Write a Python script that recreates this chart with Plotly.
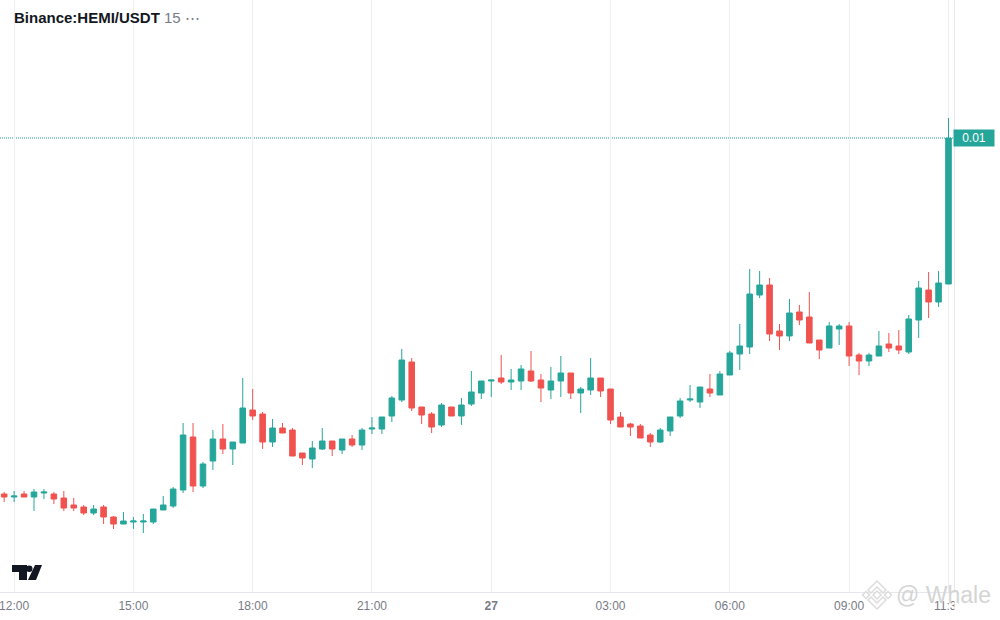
import pandas as pd
import plotly.graph_objects as go

# === Candle data (15 min, prices in 1e-5 USDT) ===
opens = [1001, 998, 1001, 998, 1002, 1001, 997, 990, 988, 982, 988, 978,
         971, 973, 973, 973, 985, 989, 1005, 1058, 1009, 1034, 1056, 1046,
         1052, 1085, 1081, 1053, 1067, 1065, 1042, 1036, 1046, 1054, 1045, 1056,
         1050, 1066, 1066, 1079, 1095, 1133, 1088, 1081, 1070, 1088, 1079, 1091,
         1102, 1114, 1117, 1113, 1114, 1124, 1115, 1105, 1114, 1122, 1102, 1105,
         1117, 1106, 1078, 1071, 1069, 1060, 1053, 1064, 1079, 1095, 1093, 1106,
         1100, 1120, 1141, 1148, 1200, 1210, 1164, 1159, 1183, 1178, 1155, 1147,
         1166, 1169, 1140, 1134, 1139, 1151, 1149, 1143, 1175, 1205, 1193, 1211]
highs = [1003, 1004, 1004, 1006, 1006, 1003, 1004, 997, 990, 990, 990, 979,
         983, 978, 981, 986, 999, 1008, 1072, 1072, 1033, 1065, 1071, 1053,
         1117, 1106, 1083, 1076, 1072, 1067, 1042, 1054, 1067, 1054, 1056, 1060,
         1067, 1078, 1078, 1099, 1146, 1137, 1088, 1083, 1092, 1088, 1097, 1124,
         1114, 1115, 1140, 1126, 1130, 1144, 1121, 1128, 1139, 1122, 1108, 1137,
         1117, 1106, 1083, 1072, 1071, 1062, 1067, 1078, 1097, 1110, 1108, 1121,
         1124, 1144, 1171, 1226, 1224, 1217, 1171, 1196, 1190, 1203, 1155, 1173,
         1171, 1173, 1142, 1142, 1164, 1162, 1165, 1180, 1214, 1223, 1224, 1377]
lows = [993, 993, 998, 984, 996, 991, 984, 984, 980, 980, 971, 966,
        971, 966, 962, 971, 985, 987, 1002, 1003, 1007, 1025, 1041, 1030,
        1052, 1075, 1046, 1048, 1062, 1039, 1030, 1027, 1045, 1039, 1041, 1048,
        1045, 1061, 1061, 1073, 1093, 1084, 1071, 1062, 1068, 1079, 1070, 1089,
        1096, 1098, 1111, 1105, 1105, 1113, 1093, 1096, 1098, 1096, 1082, 1100,
        1098, 1071, 1068, 1059, 1057, 1048, 1052, 1059, 1077, 1093, 1087, 1098,
        1100, 1120, 1125, 1141, 1197, 1154, 1145, 1154, 1170, 1152, 1136, 1147,
        1150, 1129, 1120, 1129, 1139, 1143, 1141, 1141, 1157, 1177, 1188, 1211]
closes = [998, 999, 998, 1003, 1003, 996, 987, 987, 982, 986, 978, 971,
          974, 974, 974, 986, 990, 1006, 1060, 1009, 1031, 1056, 1046, 1053,
          1087, 1079, 1053, 1067, 1062, 1039, 1037, 1047, 1054, 1046, 1056, 1050,
          1065, 1067, 1078, 1097, 1135, 1087, 1080, 1068, 1090, 1079, 1090, 1103,
          1114, 1115, 1113, 1115, 1126, 1114, 1107, 1114, 1122, 1102, 1106, 1117,
          1104, 1075, 1068, 1068, 1057, 1053, 1065, 1078, 1094, 1096, 1108, 1102,
          1121, 1142, 1149, 1201, 1210, 1161, 1159, 1182, 1175, 1152, 1145, 1169,
          1169, 1139, 1134, 1140, 1149, 1147, 1145, 1176, 1207, 1193, 1212, 1357]

tick_times = ['2025-09-26 12:00', '2025-09-26 15:00', '2025-09-26 18:00', '2025-09-26 21:00',
              '2025-09-27 00:00', '2025-09-27 03:00', '2025-09-27 06:00', '2025-09-27 09:00',
              '2025-09-27 11:30']
tick_labels = ['12:00', '15:00', '18:00', '21:00', '<b>27</b>', '03:00', '06:00', '09:00', '11:30']
last_price_label = '0.01'

times = pd.date_range('2025-09-26 11:45', periods=len(opens), freq='15min')
green = '#26A69A'
red = '#F0524F'
plot_w, plot_h = 954, 592


def to_price(values):
    return [v / 100000 for v in values]


def poly(points):
    # page pixels -> paper coordinates
    parts = [f"{x / plot_w:.5f},{1 - y / plot_h:.5f}" for x, y in points]
    return 'M' + ' L'.join(parts) + ' Z'


# === Plot ===
fig = go.Figure()
fig.add_trace(go.Candlestick(
    x=times, open=to_price(opens), high=to_price(highs), low=to_price(lows), close=to_price(closes),
    whiskerwidth=0, hoverinfo='skip',
    increasing=dict(line=dict(color=green, width=1), fillcolor=green),
    decreasing=dict(line=dict(color=red, width=1), fillcolor=red),
))

# === Decorations ===
shapes = [
    # last price line
    dict(type='line', xref='paper', yref='y', x0=0, x1=1, y0=closes[-1] / 100000, y1=closes[-1] / 100000,
         line=dict(color=green, width=1, dash='1px,1px'), layer='below'),
    # price scale covers the end of the last time label
    dict(type='rect', xref='paper', yref='paper', x0=1.0005, x1=1.03, y0=-0.045, y1=-0.0005,
         fillcolor='white', line=dict(width=0), layer='above'),
    # TradingView logo
    dict(type='path', xref='paper', yref='paper', layer='above', line=dict(width=0), fillcolor='#131722',
         path=poly([(12, 565), (27, 565), (27, 580), (19, 580), (19, 572), (12, 572)])),
    dict(type='path', xref='paper', yref='paper', layer='above', line=dict(width=0), fillcolor='#131722',
         path=poly([(35, 565), (42, 565), (36, 580), (28, 580)])),
    dict(type='circle', xref='paper', yref='paper', layer='above', line=dict(width=0), fillcolor='#131722',
         x0=26 / plot_w, x1=32.5 / plot_w, y0=1 - 572 / plot_h, y1=1 - 565.5 / plot_h),
]
# watermark logo
for pts in [
    [(877, 581), (886, 590), (883, 593), (877, 587), (871, 593), (868, 590)],
    [(877, 609), (886, 600), (883, 597), (877, 603), (871, 597), (868, 600)],
    [(877, 591), (881, 595), (877, 599), (873, 595)],
    [(866, 591.5), (869.5, 595), (866, 598.5), (862.5, 595)],
    [(888, 591.5), (891.5, 595), (888, 598.5), (884.5, 595)],
]:
    shapes.append(dict(type='path', xref='paper', yref='paper', layer='above',
                       line=dict(color='#dcdcdc', width=1.5), fillcolor='white', path=poly(pts)))

annotations = [
    dict(xref='paper', yref='paper', x=14 / plot_w, y=1 - 18 / plot_h, xanchor='left', yanchor='middle',
         xshift=-2, showarrow=False, align='left',
         text="<b>Binance:HEMI/USDT</b> <span style='color:#787B86'>15 \u22ef</span>",
         font=dict(family='Liberation Sans', size=15, color='#131722')),
    dict(xref='paper', yref='y', x=1, y=closes[-1] / 100000, xanchor='left', yanchor='middle',
         xshift=-1, showarrow=False, text=last_price_label, width=40, height=16, bgcolor=green, borderpad=0,
         font=dict(family='Liberation Sans', size=12, color='white')),
    dict(xref='paper', yref='paper', x=894 / plot_w, y=1 - 595 / plot_h, xanchor='left', yanchor='middle',
         showarrow=False, text='@ Whale',
         font=dict(family='Liberation Sans', size=23, color='#d4d4d4')),
]

# === Layout ===
fig.update_layout(
    width=1000, height=620,
    margin=dict(l=0, r=1000 - plot_w, t=0, b=620 - plot_h),
    paper_bgcolor='white', plot_bgcolor='white',
    showlegend=False, boxgap=0.2,
    shapes=shapes, annotations=annotations,
    font=dict(family='Liberation Sans', size=12, color='#787B86'),
    xaxis=dict(
        range=['2025-09-26 11:38:42', '2025-09-27 11:38:18'],
        rangeslider=dict(visible=False),
        tickmode='array', tickvals=tick_times, ticktext=tick_labels, tickangle=0,
        ticklabeloverflow='allow',
        showgrid=True, gridcolor='#EDEEF1', gridwidth=1,
        ticks='outside', ticklen=3, tickcolor='white', tickwidth=0,
        showline=True, linecolor='#E6E8EE', linewidth=1, mirror=False, zeroline=False,
    ),
    yaxis=dict(
        range=[0.00903, 0.01495], side='right',
        showgrid=False, zeroline=False, showticklabels=False, ticks='',
        showline=True, linecolor='#E6E8EE', linewidth=1,
    ),
)

fig.write_html("out.html", config=dict(displayModeBar=False),
               post_script="document.body.style.margin='0';document.body.style.overflow='hidden';")
